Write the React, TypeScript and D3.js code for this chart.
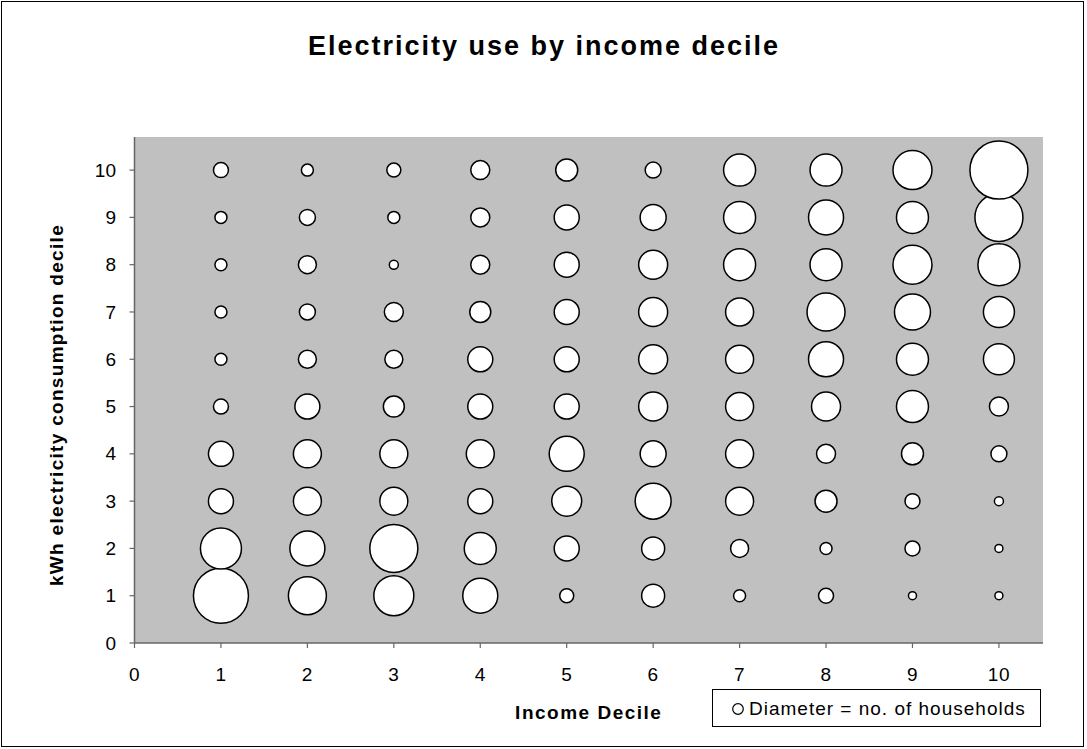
import React from 'react'
import * as d3 from 'd3'

// income deciles along x, kWh deciles along y
const incomeDeciles = [1, 2, 3, 4, 5, 6, 7, 8, 9, 10]
const kwhDeciles = [1, 2, 3, 4, 5, 6, 7, 8, 9, 10]

// households per cell, one array per income decile (index = kWh decile 1..10)
const inc1 = [55, 41, 25, 25, 15, 12, 12, 12, 12, 15]
const inc2 = [38, 35, 28, 28, 25, 18, 16, 18, 16, 12]
const inc3 = [40, 48, 28, 28, 21, 18, 19, 9, 12, 14]
const inc4 = [35, 32, 25, 28, 25, 25, 21, 19, 19, 19]
const inc5 = [14, 25, 30, 35, 25, 25, 25, 25, 25, 22]
const inc6 = [23, 23, 36, 26, 29, 29, 29, 29, 26, 16]
const inc7 = [12, 18, 28, 28, 28, 28, 28, 32, 32, 32]
const inc8 = [15, 12, 22, 19, 29, 35, 38, 32, 35, 32]
const inc9 = [8, 15, 15, 22, 32, 32, 36, 39, 32, 39]
const inc10 = [8, 8, 9, 16, 19, 31, 31, 42, 48, 58]

const households = [inc1, inc2, inc3, inc4, inc5, inc6, inc7, inc8, inc9, inc10]

const xTicks = [0, 1, 2, 3, 4, 5, 6, 7, 8, 9, 10]
const yTicks = [0, 1, 2, 3, 4, 5, 6, 7, 8, 9, 10]

const W = 1087
const H = 749
const plot = { left: 134.5, right: 1043, top: 137, bottom: 643 }
const font = 'Arial, "Liberation Sans", sans-serif'

export default function App() {
    const x = d3.scaleLinear().domain([0, 10.51]).range([plot.left, plot.right])
    const y = d3.scaleLinear().domain([0, 10.7]).range([plot.bottom, plot.top])
    const maxVal = d3.max(households.flat()) as number
    const diam = d3.scaleLinear().domain([0, maxVal]).range([0, 58])

    const points = incomeDeciles.flatMap((inc, i) =>
        kwhDeciles.map((k, j) => ({ inc, k, v: households[i][j] }))
    )
    const axisColor = '#666'
    const plotMidX = (plot.left + plot.right) / 2

    return (
        <div style={{ position: 'absolute', left: 0, top: 0 }}>
            <svg width={W} height={H} style={{ display: 'block', fontFamily: font }}>
                <rect x={0} y={0} width={W} height={H} fill="#fff" />
                <rect x={1.5} y={1.5} width={W - 5} height={H - 4} fill="none" stroke="#000" strokeWidth={1} />
                <text x={544} y={55} textAnchor="middle" fontSize={27} fontWeight="bold" letterSpacing={2}>
                    Electricity use by income decile
                </text>

                <rect x={plot.left} y={plot.top} width={plot.right - plot.left} height={plot.bottom - plot.top} fill="#c0c0c0" />

                {points.map((p, i) => (
                    <circle key={i} cx={x(p.inc)} cy={y(p.k)} r={diam(p.v) / 2}
                        fill="#fff" stroke="#000" strokeWidth={1.5} />
                ))}

                {/* y axis */}
                <line x1={plot.left} x2={plot.left} y1={plot.top} y2={plot.bottom} stroke={axisColor} strokeWidth={1.5} />
                {yTicks.map(t => (
                    <g key={'y' + t}>
                        <line x1={plot.left - 5} x2={plot.left} y1={y(t)} y2={y(t)} stroke={axisColor} strokeWidth={1.2} />
                        <text x={116} y={y(t)} dy="0.35em" textAnchor="end" fontSize={19}>{t}</text>
                    </g>
                ))}

                {/* x axis */}
                <line x1={plot.left} x2={plot.right} y1={plot.bottom} y2={plot.bottom} stroke={axisColor} strokeWidth={1.5} />
                {xTicks.map(t => (
                    <g key={'x' + t}>
                        <line x1={x(t)} x2={x(t)} y1={plot.bottom} y2={plot.bottom + 5} stroke={axisColor} strokeWidth={1.2} />
                        <text x={x(t)} y={681} textAnchor="middle" fontSize={19} letterSpacing={0.5}>{t}</text>
                    </g>
                ))}

                <text x={plotMidX} y={719} textAnchor="middle" fontSize={19} fontWeight="bold" letterSpacing={1.5}>Income Decile</text>
                <text transform="translate(63,405) rotate(-90)" textAnchor="middle" fontSize={19} fontWeight="bold" letterSpacing={1.3}>
                    kWh electricity consumption decile
                </text>

                {/* legend */}
                <rect x={712.5} y={689.5} width={328} height={37} fill="#fff" stroke="#000" strokeWidth={1} />
                <circle cx={738} cy={709} r={5.3} fill="#fff" stroke="#000" strokeWidth={1.2} />
                <text x={749} y={715} fontSize={19} letterSpacing={1}>Diameter = no. of households</text>
            </svg>
        </div>
    )
}
